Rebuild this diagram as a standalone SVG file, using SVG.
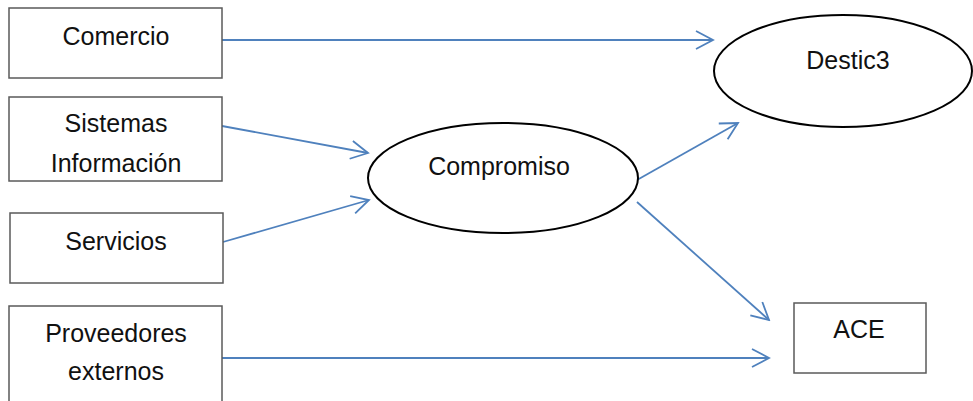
<svg xmlns="http://www.w3.org/2000/svg" width="973" height="401" viewBox="0 0 973 401">
  <style>
    .box { fill: #ffffff; stroke: #5a5a5a; stroke-width: 1.5; }
    .oval { fill: #ffffff; stroke: #000000; stroke-width: 2; }
    .label { font-family: "Liberation Sans", Arial, sans-serif; font-size: 25px; fill: #111111; text-anchor: middle; }
    .link { fill: none; stroke: #4f81bd; stroke-width: 1.8; marker-end: url(#head); }
  </style>
  <defs>
    <marker id="head" viewBox="0 0 20 20" refX="18" refY="10" markerWidth="20" markerHeight="20" markerUnits="userSpaceOnUse" orient="auto">
      <path d="M1,1 L18,10 L1,19" fill="none" stroke="#4f81bd" stroke-width="1.8"/>
    </marker>
  </defs>

  <rect width="973" height="401" fill="#ffffff"/>

  <g id="connectors">
    <line class="link" x1="222" y1="40" x2="713" y2="40"/>
    <line class="link" x1="222" y1="126" x2="368" y2="153"/>
    <line class="link" x1="223" y1="242" x2="369" y2="200"/>
    <line class="link" x1="637" y1="180" x2="738" y2="123"/>
    <line class="link" x1="637" y1="202" x2="769" y2="320"/>
    <line class="link" x1="222" y1="358" x2="769" y2="358"/>
  </g>

  <g id="comercio">
    <rect class="box" x="9" y="8" width="213" height="70"/>
    <text class="label" x="116" y="45">Comercio</text>
  </g>

  <g id="sistemas-informacion">
    <rect class="box" x="9" y="97" width="213" height="84"/>
    <text class="label" x="116" y="132">Sistemas</text>
    <text class="label" x="116" y="172">Información</text>
  </g>

  <g id="servicios">
    <rect class="box" x="10" y="213" width="213" height="70"/>
    <text class="label" x="116" y="250">Servicios</text>
  </g>

  <g id="proveedores-externos">
    <rect class="box" x="9" y="306" width="213" height="110"/>
    <text class="label" x="116" y="342">Proveedores</text>
    <text class="label" x="116" y="380">externos</text>
  </g>

  <g id="compromiso">
    <ellipse class="oval" cx="503" cy="178" rx="135" ry="55"/>
    <text class="label" x="499" y="175">Compromiso</text>
  </g>

  <g id="destic3">
    <ellipse class="oval" cx="843" cy="71" rx="129" ry="56"/>
    <text class="label" x="848" y="69">Destic3</text>
  </g>

  <g id="ace">
    <rect class="box" x="794" y="303" width="132" height="70"/>
    <text class="label" x="859" y="338">ACE</text>
  </g>
</svg>
